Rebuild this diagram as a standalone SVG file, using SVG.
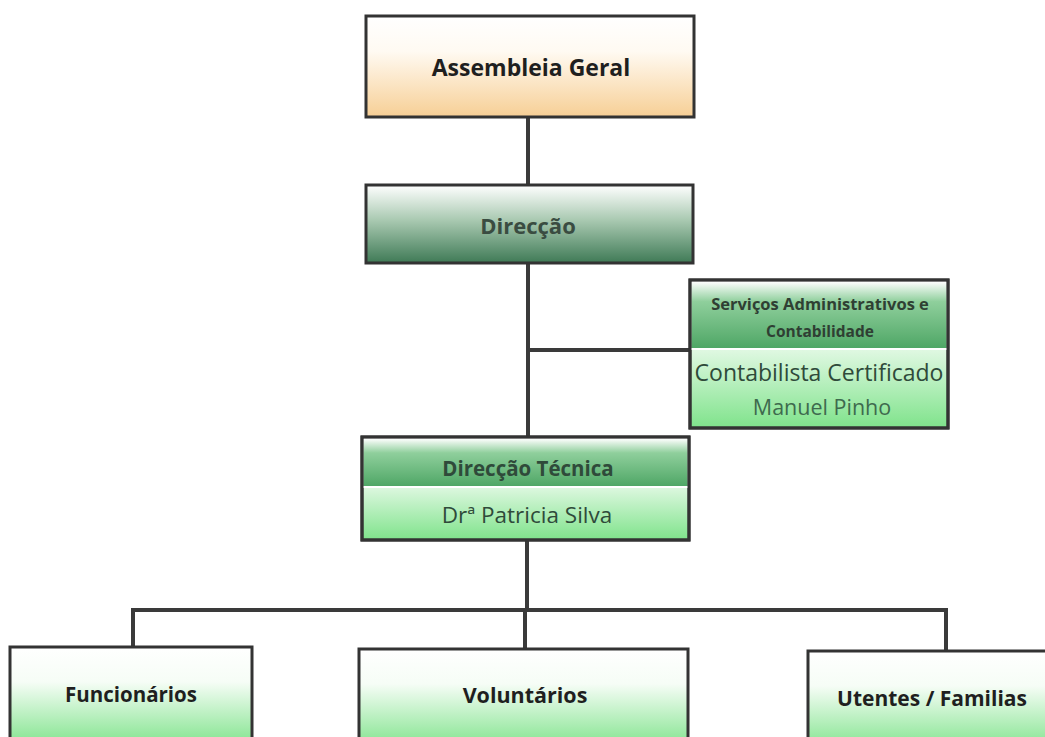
<svg xmlns="http://www.w3.org/2000/svg" width="1045" height="737" viewBox="0 0 1045 737">
<defs>
<linearGradient id="gOrange" x1="0" y1="0" x2="0" y2="1">
<stop offset="0" stop-color="#ffffff"/><stop offset="0.35" stop-color="#fffaf2"/><stop offset="1" stop-color="#f7cf95"/>
</linearGradient>
<linearGradient id="gDir" x1="0" y1="0" x2="0" y2="1">
<stop offset="0" stop-color="#ffffff"/><stop offset="0.45" stop-color="#a9c9b1"/><stop offset="1" stop-color="#3f7a56"/>
</linearGradient>
<linearGradient id="gMid" x1="0" y1="0" x2="0" y2="1">
<stop offset="0" stop-color="#ffffff"/><stop offset="0.3" stop-color="#8fcf9c"/><stop offset="1" stop-color="#4ea665"/>
</linearGradient>
<linearGradient id="gLight" x1="0" y1="0" x2="0" y2="1">
<stop offset="0" stop-color="#ffffff"/><stop offset="0.35" stop-color="#f6fdf6"/><stop offset="1" stop-color="#7fe38b"/>
</linearGradient>
</defs>
<style>
.box{stroke:#333;stroke-width:3}
.con{fill:none;stroke:#3a3a3a;stroke-width:4}
.t{font-family:"Open Sans","Noto Sans",sans-serif;font-weight:700;text-anchor:middle;fill:#1f1f1f}
.tg{font-family:"Open Sans","Noto Sans",sans-serif;text-anchor:middle;fill:#2f4a3a}
</style>
<rect width="1045" height="737" fill="#ffffff"/>
<g id="connectors">
<path class="con" d="M528 117 V185"/>
<path class="con" d="M528 263 V437"/>
<path class="con" d="M528 350 H690"/>
<path class="con" d="M527 540 V610"/>
<path class="con" d="M133 647 V610 H946 V651"/>
<path class="con" d="M525 610 V649"/>
</g>
<g id="assembleia">
<rect class="box" x="366" y="16" width="328" height="101" fill="url(#gOrange)"/>
<text class="t" x="531" y="76" font-size="23">Assembleia Geral</text>
</g>
<g id="direccao">
<rect class="box" x="366" y="185" width="327" height="78" fill="url(#gDir)"/>
<text class="t" x="528" y="234" font-size="22" style="fill:#3a4c41">Direcção</text>
</g>
<g id="servicos">
<rect class="box" x="690" y="280" width="258" height="148" fill="url(#gLight)"/>
<rect x="691.5" y="281.5" width="255" height="67" fill="url(#gMid)"/>
<line x1="690" y1="349" x2="948" y2="349" stroke="#ffffff" stroke-width="2"/>
<rect class="box" x="690" y="280" width="258" height="148" fill="none"/>
<text class="t" x="820" y="310" font-size="16.5" style="fill:#2f3f33">Serviços Administrativos e</text>
<text class="t" x="820" y="337" font-size="15.5" style="fill:#2f3f33">Contabilidade</text>
<text class="tg" x="819" y="381" font-size="23">Contabilista Certificado</text>
<text class="tg" x="822" y="415" font-size="21.5" style="fill:#3e6a4e">Manuel Pinho</text>
</g>
<g id="direccao-tecnica">
<rect class="box" x="362" y="437" width="327" height="103" fill="url(#gLight)"/>
<rect x="363.5" y="438.5" width="324" height="48" fill="url(#gMid)"/>
<line x1="362" y1="487" x2="689" y2="487" stroke="#ffffff" stroke-width="2"/>
<rect class="box" x="362" y="437" width="327" height="103" fill="none"/>
<text class="t" x="528" y="476" font-size="20.5" style="fill:#2f4a3a">Direcção Técnica</text>
<text class="tg" x="527" y="523" font-size="22.5">Drª Patricia Silva</text>
</g>
<g id="funcionarios">
<rect class="box" x="10" y="647" width="242" height="100" fill="url(#gLight)"/>
<text class="t" x="131" y="702" font-size="20.5">Funcionários</text>
</g>
<g id="voluntarios">
<rect class="box" x="359" y="649" width="329" height="100" fill="url(#gLight)"/>
<text class="t" x="525" y="703" font-size="21.5">Voluntários</text>
</g>
<g id="utentes">
<rect class="box" x="808" y="651" width="250" height="100" fill="url(#gLight)"/>
<text class="t" x="932" y="706" font-size="21">Utentes / Familias</text>
</g>
</svg>
